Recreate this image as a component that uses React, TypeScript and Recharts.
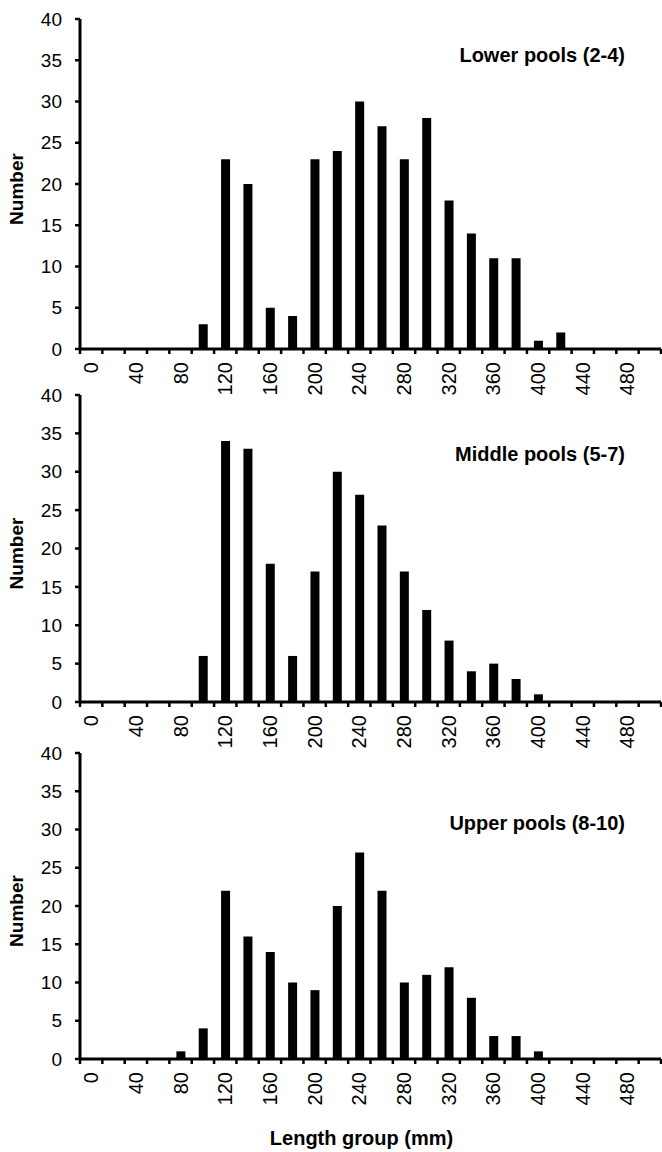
import React from 'react';
import { BarChart, Bar, XAxis, YAxis } from 'recharts';

// Length groups (mm) – categories
const LENGTH_GROUPS = [0, 20, 40, 60, 80, 100, 120, 140, 160, 180, 200, 220, 240, 260, 280, 300, 320, 340, 360, 380, 400, 420, 440, 460, 480, 500];

// Counts per length group
const LOWER_POOLS = [0, 0, 0, 0, 0, 3, 23, 20, 5, 4, 23, 24, 30, 27, 23, 28, 18, 14, 11, 11, 1, 2, 0, 0, 0, 0];
const MIDDLE_POOLS = [0, 0, 0, 0, 0, 6, 34, 33, 18, 6, 17, 30, 27, 23, 17, 12, 8, 4, 5, 3, 1, 0, 0, 0, 0, 0];
const UPPER_POOLS = [0, 0, 0, 0, 1, 4, 22, 16, 14, 10, 9, 20, 27, 22, 10, 11, 12, 8, 3, 3, 1, 0, 0, 0, 0, 0];

const Y_TICKS = [0, 5, 10, 15, 20, 25, 30, 35, 40];
const TITLES = ['Lower pools (2-4)', 'Middle pools (5-7)', 'Upper pools (8-10)'];
const Y_LABEL = 'Number';
const X_LABEL = 'Length group (mm)';

const CHART_W = 662;
const Y_AXIS_W = 80;
const RIGHT_M = 1;
const BAND = (CHART_W - Y_AXIS_W - RIGHT_M) / LENGTH_GROUPS.length;
const FONT = '"Liberation Sans", Arial, sans-serif';
const LAST = LENGTH_GROUPS[LENGTH_GROUPS.length - 1];

const XTick = (props: any) => {
  const { x, y, payload } = props;
  const half = BAND / 2;
  const v = payload.value;
  const ty = y + 13;
  return (
    <g>
      <line x1={x - half} x2={x - half} y1={y} y2={y + 5} stroke="#000" strokeWidth={2.5} />
      {v === LAST && <line x1={x + half} x2={x + half} y1={y} y2={y + 5} stroke="#000" strokeWidth={2.5} />}
      {v % 40 === 0 && (
        <text
          x={x}
          y={ty}
          transform={`rotate(-90 ${x} ${ty})`}
          textAnchor="end"
          dy="0.35em"
          fontSize={20}
          fill="#000"
          fontFamily={FONT}
        >
          {v}
        </text>
      )}
    </g>
  );
};

type PanelProps = {
  top: number;
  height: number;
  series: number[];
  title: string;
  titleY: number;
  marginBottom: number;
  xAxisHeight: number;
  showXLabel: boolean;
};

const Panel = ({ top, height, series, title, titleY, marginBottom, xAxisHeight, showXLabel }: PanelProps) => {
  const data = LENGTH_GROUPS.map((g, i) => ({ group: g, count: series[i] }));
  return (
    <div style={{ position: 'absolute', left: 0, top, width: CHART_W, height }}>
      <BarChart
        width={CHART_W}
        height={height}
        data={data}
        margin={{ top: 19, right: RIGHT_M, left: 0, bottom: marginBottom }}
      >
        <XAxis
          dataKey="group"
          type="category"
          interval={0}
          height={xAxisHeight}
          tickSize={0}
          tickMargin={0}
          tickLine={false}
          axisLine={{ stroke: '#000', strokeWidth: 3 }}
          tick={<XTick />}
          label={
            showXLabel
              ? {
                  content: (p: any) => {
                    const vb = p.viewBox;
                    return (
                      <text
                        x={vb.x + vb.width / 2 - 9}
                        y={vb.y + 79}
                        textAnchor="middle"
                        dy="0.35em"
                        fontSize={20}
                        fontWeight="bold"
                        fill="#000"
                        fontFamily={FONT}
                      >
                        {X_LABEL}
                      </text>
                    );
                  },
                }
              : undefined
          }
        />
        <YAxis
          type="number"
          domain={[0, 40]}
          ticks={Y_TICKS}
          width={Y_AXIS_W}
          tickSize={5}
          tickMargin={13}
          tickLine={{ stroke: '#000', strokeWidth: 2.5 }}
          axisLine={{ stroke: '#000', strokeWidth: 3 }}
          tick={{ fontSize: 19, fill: '#000', fontFamily: FONT }}
          label={{
            content: (p: any) => {
              const vb = p.viewBox;
              const cy = vb.y + vb.height / 2 + 5;
              return (
                <text
                  x={16}
                  y={cy}
                  transform={`rotate(-90 16 ${cy})`}
                  textAnchor="middle"
                  dy="0.35em"
                  fontSize={19}
                  fontWeight="bold"
                  fill="#000"
                  fontFamily={FONT}
                >
                  {Y_LABEL}
                </text>
              );
            },
          }}
        />
        <Bar dataKey="count" fill="#000" barSize={9} isAnimationActive={false} />
      </BarChart>
      <div
        style={{
          position: 'absolute',
          left: 0,
          width: 625,
          top: titleY - 11,
          textAlign: 'right',
          fontSize: 20,
          lineHeight: '22px',
          fontWeight: 'bold',
          fontFamily: FONT,
          color: '#000',
          whiteSpace: 'nowrap',
        }}
      >
        {title}
      </div>
    </div>
  );
};

export default function App() {
  return (
    <div style={{ position: 'absolute', left: 0, top: 0, width: 662, height: 1152, background: '#fff', fontFamily: FONT }}>
      <Panel top={0} height={400} series={LOWER_POOLS} title={TITLES[0]} titleY={55} marginBottom={6} xAxisHeight={45} showXLabel={false} />
      <Panel top={376} height={400} series={MIDDLE_POOLS} title={TITLES[1]} titleY={78} marginBottom={29} xAxisHeight={45} showXLabel={false} />
      <Panel top={734} height={418} series={UPPER_POOLS} title={TITLES[2]} titleY={89} marginBottom={0} xAxisHeight={93} showXLabel={true} />
    </div>
  );
}
